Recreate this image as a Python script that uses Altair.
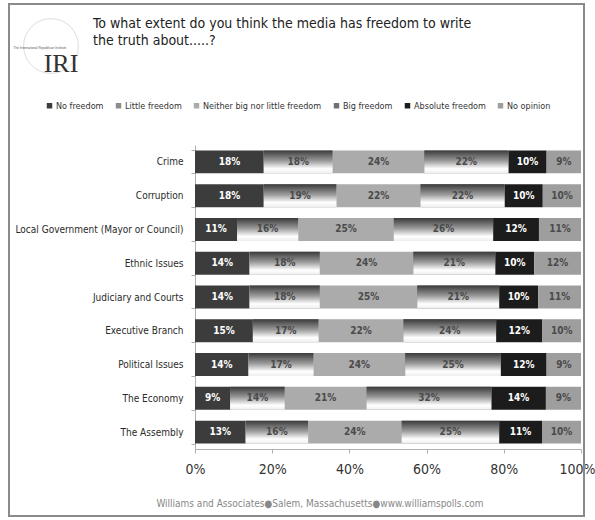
import altair as alt
import pandas as pd

topics = ["Crime", "Corruption", "Local Government (Mayor or Council)", "Ethnic Issues",
          "Judiciary and Courts", "Executive Branch", "Political Issues", "The Economy",
          "The Assembly"]
categories = ["No freedom", "Little freedom", "Neither big nor little freedom",
              "Big freedom", "Absolute freedom", "No opinion"]
no_freedom = [18, 18, 11, 14, 14, 15, 14, 9, 13]
little_freedom = [18, 19, 16, 18, 18, 17, 17, 14, 16]
neither = [24, 22, 25, 24, 25, 22, 24, 21, 24]
big_freedom = [22, 22, 26, 21, 21, 24, 25, 32, 25]
absolute_freedom = [10, 10, 12, 10, 10, 12, 12, 14, 11]
no_opinion = [9, 10, 11, 12, 11, 10, 9, 9, 10]
tick_values = [0, 0.2, 0.4, 0.6, 0.8, 1.0]

series = [no_freedom, little_freedom, neither, big_freedom, absolute_freedom, no_opinion]
rows = []
for ci, (cat, vals) in enumerate(zip(categories, series)):
    for t, v in zip(topics, vals):
        rows.append({"topic": t, "category": cat, "value": v, "order": ci,
                     "label": f"{v}%"})
df = pd.DataFrame(rows)

FONT = "DejaVu Sans Condensed, Liberation Sans Narrow, Liberation Sans"
colors = ["#3c3c3c", "#8c8c8c", "#ababab", "#707070", "#1c1c1c", "#9e9e9e"]

base = alt.Chart(df).transform_stack(
    stack="value", groupby=["topic"], as_=["x0", "x1"], offset="normalize",
    sort=[alt.SortField("order", order="ascending")]
).transform_calculate(
    mid="(datum.x0 + datum.x1) / 2",
    tc="datum.category == 'No freedom' || datum.category == 'Absolute freedom' ? '#ffffff' : '#4a4a4a'"
)

y_enc = alt.Y("topic:N", sort=topics, title=None,
              scale=alt.Scale(paddingInner=0.32, paddingOuter=0.16),
              axis=alt.Axis(labelFont=FONT, labelFontSize=10, labelColor="#2a2a2a",
                            labelPadding=8, domainColor="#b0b0b0", tickColor="#b0b0b0",
                            tickSize=4, tickBand="extent", labelLimit=300))
x_enc = alt.X("x0:Q", title=None, scale=alt.Scale(domain=[0, 1], nice=False),
              axis=alt.Axis(values=tick_values, format=".0%", grid=False,
                            labelFont=FONT, labelFontSize=14, labelColor="#333",
                            labelPadding=9, domainColor="#b0b0b0", tickColor="#b0b0b0",
                            tickSize=4, labelFlush=False,
                            labelAlign={"condition": {"test": "datum.value == 1", "value": "right"},
                                        "value": "center"},
                            labelOffset={"condition": {"test": "datum.value == 1", "value": 14},
                                         "value": 0}))

bars = base.mark_bar(stroke=None).encode(
    x=x_enc, x2="x1:Q", y=y_enc,
    color=alt.Color("category:N", sort=categories,
                    scale=alt.Scale(domain=categories, range=colors),
                    legend=alt.Legend(orient="none", direction="horizontal", columns=6,
                                      legendX=-150, legendY=-44, title=None,
                                      symbolType="square", symbolSize=30,
                                      symbolStrokeWidth=0, labelFont=FONT,
                                      labelFontSize=9, labelColor="#333",
                                      columnPadding=10, symbolOffset=0,
                                      labelOffset=2)),
)

grad = alt.Gradient(gradient="linear", x1=0, x2=0, y1=0, y2=1,
                    stops=[alt.GradientStop(color="#3a3a3a", offset=0),
                           alt.GradientStop(color="#9a9a9a", offset=0.45),
                           alt.GradientStop(color="#ffffff", offset=0.8),
                           alt.GradientStop(color="#eeeeee", offset=1)])
grad_bars = base.transform_filter(
    "datum.category == 'Little freedom' || datum.category == 'Big freedom'"
).mark_bar(color=grad).encode(x="x0:Q", x2="x1:Q", y=alt.Y("topic:N", sort=topics))

labels = base.mark_text(font=FONT, fontSize=10, fontWeight="bold").encode(
    x="mid:Q", y=alt.Y("topic:N", sort=topics), text="label:N",
    color=alt.Color("tc:N", scale=None))

one = pd.DataFrame({"a": [0]})
deco = alt.Chart(one)

frame = deco.mark_rect(fillOpacity=0, stroke="#8a8a8a", strokeWidth=2).encode(
    x=alt.value(-186), x2=alt.value(389), y=alt.value(-141), y2=alt.value(371))

title = deco.mark_text(align="left", baseline="top", font=FONT, fontSize=14,
                       color="#222", lineHeight=17).encode(
    x=alt.value(-102), y=alt.value(-128),
    text=alt.value(["To what extent do you think the media has freedom to write",
                    "the truth about.....?"]))

globe = deco.mark_point(shape="circle", size=3000, filled=False, stroke="#cfcfcf",
                        strokeWidth=1).encode(x=alt.value(-144), y=alt.value(-99))
iri = deco.mark_text(font="Liberation Serif", fontSize=26, color="#333",
                     baseline="alphabetic").encode(
    x=alt.value(-134), y=alt.value(-73), text=alt.value("IRI"))
iri_small = deco.mark_text(font="Liberation Sans", fontSize=3.2, color="#555").encode(
    x=alt.value(-155), y=alt.value(-97), text=alt.value("The International Republican Institute"))

footer = deco.mark_text(font=FONT, fontSize=10, color="#888").encode(
    x=alt.value(125), y=alt.value(359),
    text=alt.value("Williams and Associates\u25cfSalem, Massachusetts\u25cfwww.williamspolls.com"))

chart = alt.layer(frame, bars, grad_bars, labels, title, globe, iri, iri_small, footer).properties(
    width=386, height=304,
    padding={"left": 195, "top": 145, "right": 14, "bottom": 71},
    autosize=alt.AutoSizeParams(type="none"),
    background="white",
).configure_view(stroke=None)

chart.save("out.html", embed_options={"renderer": "svg", "actions": False})
